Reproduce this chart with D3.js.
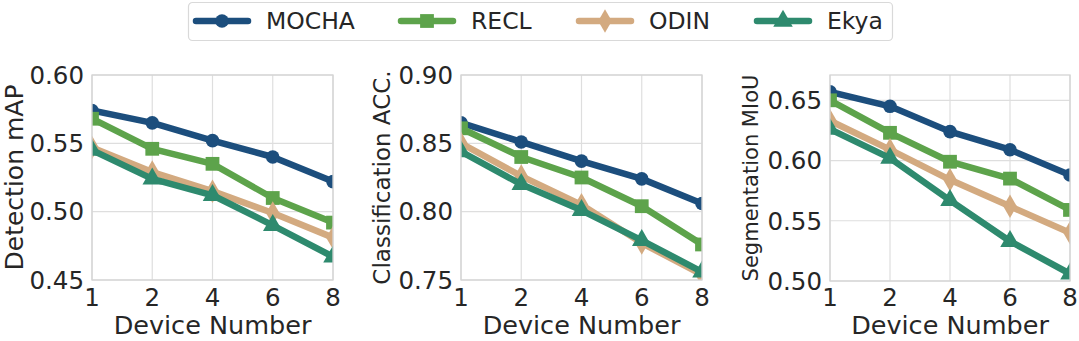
<!DOCTYPE html>
<html><head><meta charset="utf-8">
<script src="https://cdn.jsdelivr.net/npm/d3@7/dist/d3.min.js"></script>
<style>
body{margin:0;background:#fff;}
svg{display:block;font-family:"DejaVu Sans",sans-serif;}
</style></head>
<body><svg id="c" width="1079" height="341"></svg>
<script>
const devices = ["1","2","4","6","8"];
const seriesNames = ["MOCHA","RECL","ODIN","Ekya"];
const colors = ["#1c4e7d","#5da34b","#d3aa80","#2e8a6e"];
const markers = ["circle","square","diamond","triangle"];

const detMOCHA = [0.574,0.565,0.552,0.540,0.522];
const detRECL  = [0.568,0.546,0.535,0.510,0.492];
const detODIN  = [0.547,0.529,0.515,0.499,0.481];
const detEkya  = [0.545,0.524,0.512,0.490,0.467];

const clsMOCHA = [0.865,0.851,0.837,0.824,0.806];
const clsRECL  = [0.861,0.840,0.825,0.804,0.776];
const clsODIN  = [0.850,0.826,0.805,0.777,0.754];
const clsEkya  = [0.844,0.820,0.801,0.779,0.756];

const segMOCHA = [0.657,0.645,0.624,0.609,0.588];
const segRECL  = [0.650,0.623,0.599,0.585,0.559];
const segODIN  = [0.633,0.609,0.584,0.562,0.540];
const segEkya  = [0.626,0.602,0.567,0.533,0.506];

const detTicks = [0.45,0.50,0.55,0.60];
const clsTicks = [0.75,0.80,0.85,0.90];
const segTicks = [0.50,0.55,0.60,0.65];

const panels = [
  {x0:92,x1:333,y0:75,y1:280,dom:[0.45,0.60],ticks:detTicks,label:"Detection mAP",lsize:25,lx:23,
   data:[detMOCHA,detRECL,detODIN,detEkya]},
  {x0:461,x1:702,y0:75,y1:280,dom:[0.75,0.90],ticks:clsTicks,label:"Classification ACC.",lsize:23,lx:390,
   data:[clsMOCHA,clsRECL,clsODIN,clsEkya]},
  {x0:830,x1:1070,y0:75,y1:281,dom:[0.50,0.671],ticks:segTicks,label:"Segmentation MIoU",lsize:21,lx:758,
   data:[segMOCHA,segRECL,segODIN,segEkya]}
];

const svg = d3.select("#c");
const txt = "#262626";
const gridC = "#dedede";

function markerPath(type, size){
  const sym = {circle:d3.symbolCircle,square:d3.symbolSquare,diamond:d3.symbolDiamond,triangle:d3.symbolTriangle}[type];
  return d3.symbol().type(sym).size(size)();
}
const msize = {circle:145,square:190,diamond:160,triangle:165};

panels.forEach((p,pi)=>{
  const x = d3.scalePoint().domain(devices).range([p.x0,p.x1]).padding(0);
  const y = d3.scaleLinear().domain(p.dom).range([p.y1,p.y0]);
  const g = svg.append("g");
  g.selectAll(".gx").data(devices).enter().append("line")
    .attr("x1",d=>x(d)).attr("x2",d=>x(d)).attr("y1",p.y0).attr("y2",p.y1)
    .attr("stroke",gridC).attr("stroke-width",1.2);
  g.selectAll(".gy").data(p.ticks).enter().append("line")
    .attr("x1",p.x0).attr("x2",p.x1).attr("y1",d=>y(d)).attr("y2",d=>y(d))
    .attr("stroke",gridC).attr("stroke-width",1.2);
  const cid = "clip"+pi;
  svg.append("clipPath").attr("id",cid).append("rect")
    .attr("x",p.x0).attr("y",p.y0).attr("width",p.x1-p.x0).attr("height",p.y1-p.y0);
  const plot = g.append("g").attr("clip-path","url(#"+cid+")");
  const line = d3.line().x((d,i)=>x(devices[i])).y(d=>y(d));
  p.data.forEach((arr,si)=>{
    plot.append("path").datum(arr).attr("d",line).attr("fill","none")
      .attr("stroke",colors[si]).attr("stroke-width",6.5).attr("stroke-linejoin","round").attr("stroke-linecap","round");
    plot.selectAll(".m"+si).data(arr).enter().append("path")
      .attr("d",markerPath(markers[si],msize[markers[si]]))
      .attr("transform",(d,i)=>`translate(${x(devices[i])},${y(d)})`)
      .attr("fill",colors[si]);
  });
  g.append("rect").attr("x",p.x0).attr("y",p.y0).attr("width",p.x1-p.x0).attr("height",p.y1-p.y0)
    .attr("fill","none").attr("stroke","#d4d4d4").attr("stroke-width",1.3);
  g.selectAll(".yt").data(p.ticks).enter().append("text")
    .attr("x",p.x0-8).attr("y",d=>y(d)).attr("dy","0.36em")
    .attr("text-anchor","end").attr("font-size",24.5).attr("fill",txt)
    .text(d=>d3.format(".2f")(d));
  g.selectAll(".xt").data(devices).enter().append("text")
    .attr("x",d=>x(d)).attr("y",306).attr("text-anchor","middle")
    .attr("font-size",24.5).attr("fill",txt).text(d=>d);
  g.append("text").attr("x",(p.x0+p.x1)/2).attr("y",334).attr("text-anchor","middle")
    .attr("font-size",25.5).attr("fill",txt).text("Device Number");
  g.append("text").attr("transform",`translate(${p.lx},${(p.y0+p.y1)/2}) rotate(-90)`)
    .attr("text-anchor","middle").attr("font-size",p.lsize).attr("fill",txt).text(p.label);
});

const lg = svg.append("g");
lg.append("rect").attr("x",188.5).attr("y",2.5).attr("width",704).attr("height",38).attr("rx",4)
  .attr("fill","#fff").attr("stroke","#d9d9d9").attr("stroke-width",1.2);
const lx = [196,401,579,757];
seriesNames.forEach((n,i)=>{
  const gx = lx[i];
  lg.append("line").attr("x1",gx).attr("x2",gx+52).attr("y1",21).attr("y2",21)
    .attr("stroke",colors[i]).attr("stroke-width",6.5).attr("stroke-linecap","round");
  lg.append("path").attr("d",markerPath(markers[i],msize[markers[i]]))
    .attr("transform",`translate(${gx+26},21)`).attr("fill",colors[i]);
  lg.append("text").attr("x",gx+70).attr("y",21).attr("dy","0.36em")
    .attr("font-size",23.5).attr("fill",txt).text(n);
});
</script></body></html>
